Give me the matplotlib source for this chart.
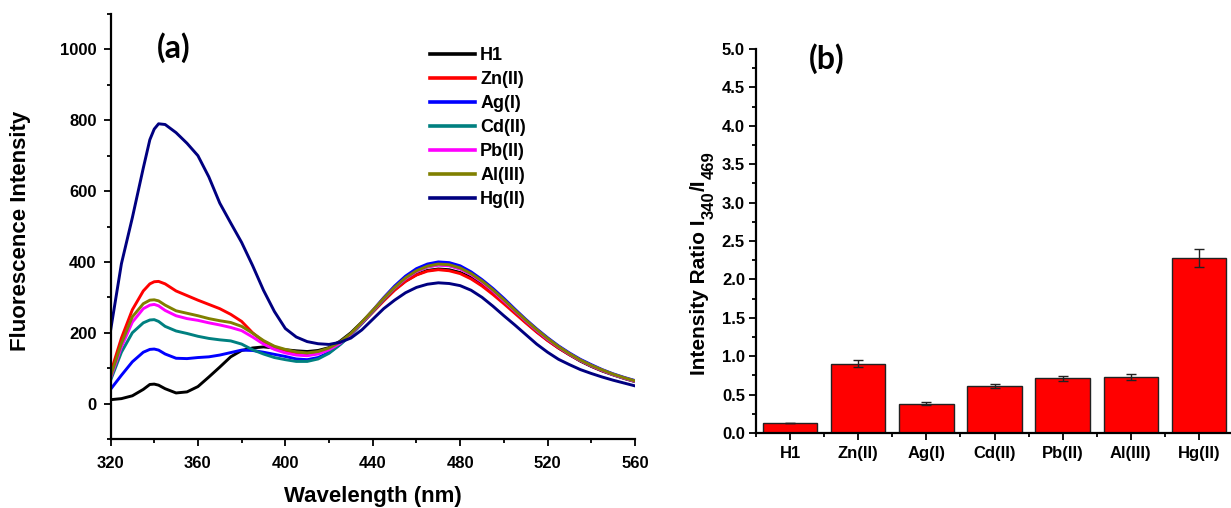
import matplotlib
matplotlib.use("Agg")
import matplotlib.pyplot as plt
from matplotlib.ticker import MultipleLocator, FixedLocator, FormatStrFormatter
from matplotlib.transforms import IdentityTransform
import numpy as np

plt.rcParams['font.family'] = ['Liberation Sans', 'DejaVu Sans']

# ---------------- data: panel (a) ----------------
wavelength = [320, 325, 330, 335, 338, 340, 342, 345, 350, 355, 360, 365, 370, 375, 380,
              385, 390, 395, 400, 405, 410, 415, 420, 425, 430, 435, 440, 445, 450, 455,
              460, 465, 470, 475, 480, 485, 490, 495, 500, 505, 510, 515, 520, 525, 530,
              535, 540, 545, 550, 555, 560]

h1 = [11, 14, 22, 40, 54, 55, 52, 42, 30, 33, 48, 75, 103, 132, 150,
      157, 160, 157, 152, 149, 147, 150, 158, 176, 200, 230, 262, 293, 322, 346,
      364, 376, 380, 378, 370, 356, 336, 312, 286, 258, 230, 203, 179, 157, 138,
      120, 105, 92, 81, 71, 62]
zn = [86, 185, 265, 318, 338, 344, 345, 338, 318, 305, 292, 280, 268, 252, 232,
      200, 175, 160, 150, 142, 140, 143, 152, 170, 195, 226, 258, 290, 320, 345,
      363, 374, 378, 375, 367, 352, 332, 308, 282, 255, 228, 202, 178, 157, 138,
      121, 106, 93, 82, 72, 63]
ag = [40, 80, 118, 145, 153, 154, 151, 140, 128, 127, 130, 132, 137, 144, 151,
      150, 145, 139, 133, 126, 124, 130, 144, 167, 195, 228, 263, 299, 332, 360,
      381, 394, 400, 398, 389, 372, 350, 325, 297, 267, 238, 211, 186, 163, 143,
      125, 110, 96, 84, 74, 65]
cd = [65, 145, 200, 228, 236, 237, 232, 218, 205, 198, 190, 184, 180, 177, 168,
      152, 140, 130, 124, 119, 119, 126, 142, 166, 193, 226, 260, 294, 326, 353,
      373, 386, 392, 390, 381, 365, 344, 319, 291, 262, 234, 207, 182, 160, 140,
      122, 107, 94, 82, 72, 63]
pb = [72, 160, 230, 268, 278, 280, 276, 263, 248, 240, 235, 228, 222, 215, 206,
      188, 168, 153, 143, 137, 135, 140, 152, 170, 196, 228, 262, 296, 327, 353,
      373, 386, 391, 389, 380, 364, 343, 318, 290, 262, 234, 207, 182, 160, 140,
      122, 107, 94, 82, 72, 63]
al = [76, 170, 245, 282, 292, 293, 290, 278, 262, 255, 248, 240, 234, 229, 218,
      199, 178, 162, 153, 146, 143, 147, 157, 174, 198, 230, 263, 297, 328, 355,
      375, 388, 394, 392, 383, 367, 346, 321, 293, 264, 236, 209, 184, 161, 141,
      123, 108, 95, 83, 73, 64]
hg = [205, 395, 525, 665, 745, 775, 790, 788, 765, 735, 700, 640, 566, 510, 455,
      390, 320, 260, 212, 188, 175, 169, 167, 173, 185, 208, 238, 268, 292, 313,
      328, 337, 341, 339, 333, 320, 300, 275, 248, 222, 195, 168, 145, 125, 110,
      96, 85, 75, 66, 58, 50]

series_names = ['H1', 'Zn(II)', 'Ag(I)', 'Cd(II)', 'Pb(II)', 'Al(III)', 'Hg(II)']
series_values = [h1, zn, ag, cd, pb, al, hg]
series_colors = ['#000000', '#FF0000', '#0000FF', '#008080', '#FF00FF', '#808000', '#000080']

# ---------------- data: panel (b) ----------------
categories = ['H1', 'Zn(II)', 'Ag(I)', 'Cd(II)', 'Pb(II)', 'Al(III)', 'Hg(II)']
ratio = [0.13, 0.90, 0.38, 0.61, 0.71, 0.73, 2.28]
ratio_err = [0.005, 0.045, 0.02, 0.03, 0.03, 0.04, 0.115]

W, H = 1231, 508
fig = plt.figure(figsize=(W / 100, H / 100), dpi=100)

def px_axes(l, r, t, b):
    return fig.add_axes([l / W, 1 - b / H, (r - l) / W, (b - t) / H])

# ---------------- panel (a) ----------------
ax1 = px_axes(110.5, 635, 14, 439)
for name, vals, col in zip(series_names, series_values, series_colors):
    ax1.plot(wavelength, vals, color=col, lw=2.1, label=name, solid_joinstyle='round')
ax1.set_xlim(320, 560)
ax1.set_ylim(-100, 1100)
ax1.xaxis.set_major_locator(MultipleLocator(40))
ax1.xaxis.set_minor_locator(MultipleLocator(20))
ax1.yaxis.set_major_locator(FixedLocator([0, 200, 400, 600, 800, 1000]))
ax1.yaxis.set_minor_locator(MultipleLocator(100))
for s in ['top', 'right']:
    ax1.spines[s].set_visible(False)
for s in ['left', 'bottom']:
    ax1.spines[s].set_linewidth(1.6)
ax1.tick_params(which='major', direction='out', length=5, width=1.3)
ax1.tick_params(which='minor', direction='out', length=3, width=1.3)
ax1.tick_params(axis='x', which='major', pad=7.5)
ax1.tick_params(axis='y', which='major', pad=5)
for lab in ax1.get_xticklabels() + ax1.get_yticklabels():
    lab.set_fontsize(12)
    lab.set_fontweight('bold')
ax1.set_xlabel('Wavelength (nm)', fontsize=16, fontweight='bold')
ax1.xaxis.set_label_coords(0.5, -(497 + 10 - 439) / 425)
ax1.xaxis.label.set_verticalalignment('bottom')
ax1.set_ylabel('Fluorescence Intensity', fontsize=16, fontweight='bold')
ax1.yaxis.set_label_coords((31 - 110.5) / 524.5, 0.49)

leg = ax1.legend(loc='upper left', bbox_to_anchor=(430 / W, 1 - 47 / H),
                 bbox_transform=fig.transFigure, frameon=False,
                 prop=dict(size=13, weight='bold'), handlelength=2.5,
                 handletextpad=0.28, labelspacing=0.39, borderpad=0, borderaxespad=0)
for line in leg.get_lines():
    line.set_linewidth(2.6)

fig.text(173.5 / W, 1 - 48 / H, '(a)', ha='center', va='center', fontsize=23,
         fontweight='bold', family=['Lato', 'DejaVu Sans'])

# ---------------- panel (b) ----------------
ax2 = px_axes(756, 1233, 49, 433)
xpos = np.arange(len(categories))
ax2.bar(xpos, ratio, width=0.8, color='#FF0000', edgecolor='#222222', linewidth=1.0,
        yerr=ratio_err, capsize=3.5, error_kw=dict(ecolor='#222222', elinewidth=1.0, capthick=1.0))
ax2.set_xlim(-0.5, len(categories) - 0.5)
ax2.set_ylim(0, 5.0)
ax2.set_xticks(xpos)
ax2.set_xticklabels(categories)
ax2.xaxis.set_minor_locator(FixedLocator(np.arange(-0.5, len(categories), 1.0)))
ax2.yaxis.set_major_locator(MultipleLocator(0.5))
ax2.yaxis.set_minor_locator(MultipleLocator(0.25))
ax2.yaxis.set_major_formatter(FormatStrFormatter('%.1f'))
for s in ['top', 'right']:
    ax2.spines[s].set_visible(False)
for s in ['left', 'bottom']:
    ax2.spines[s].set_linewidth(1.6)
ax2.tick_params(which='major', direction='out', length=5, width=1.3)
ax2.tick_params(which='minor', direction='out', length=3, width=1.3)
ax2.tick_params(axis='x', which='major', pad=4.5)
ax2.tick_params(axis='y', which='major', pad=3)
for lab in ax2.get_xticklabels() + ax2.get_yticklabels():
    lab.set_fontsize(12)
    lab.set_fontweight('bold')

fig.text(827 / W, 1 - 59 / H, '(b)', ha='center', va='center', fontsize=23,
         fontweight='bold', family=['Lato', 'DejaVu Sans'])

# y label of panel (b) built from pieces (large subscripts), measured unrotated
fig.canvas.draw()
renderer = fig.canvas.get_renderer()
base_x = 705
y_cur = H - 375
pieces = [('Intensity Ratio I', 0, 15), ('340', 9, 12), ('/I', 0, 15), ('469', 9, 12)]
for txt, dx, size in pieces:
    probe = fig.text(0, 0, txt, fontsize=size, fontweight='bold', transform=IdentityTransform())
    width = probe.get_window_extent(renderer).width
    probe.remove()
    fig.text(base_x + dx, y_cur, txt, rotation=90, rotation_mode='anchor',
             ha='left', va='baseline', fontsize=size, fontweight='bold',
             transform=IdentityTransform())
    y_cur += width + 0.5

fig.savefig('out.png', dpi=100)
